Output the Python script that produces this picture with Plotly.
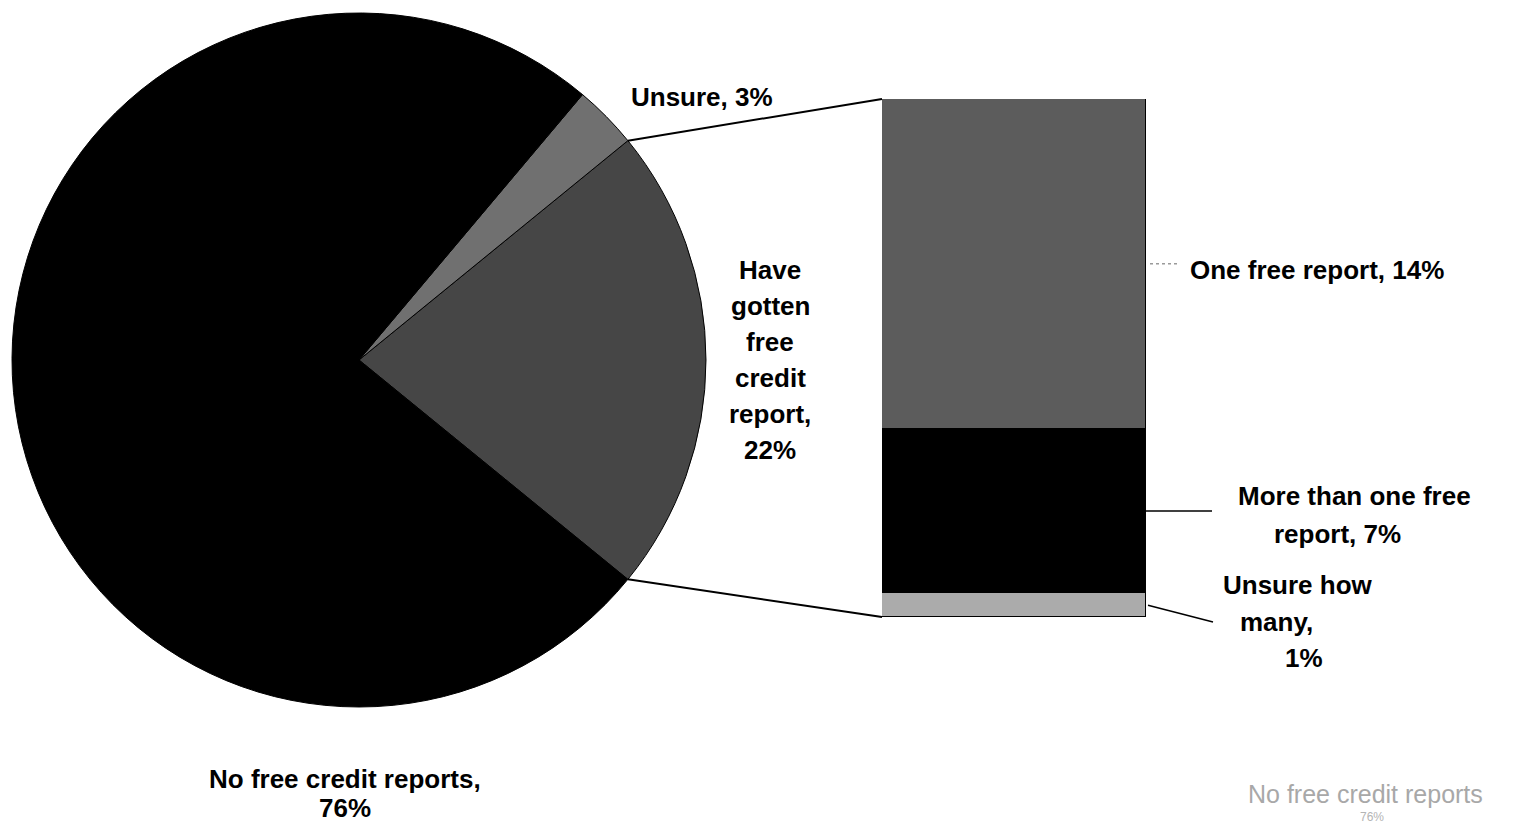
import math
import plotly.graph_objects as go

# ---- data ----
pie_labels = ["Have gotten free credit report", "Unsure", "No free credit reports"]
pie_values = [22, 3, 76]

bar_labels = ["Unsure how many", "More than one free report", "One free report"]
bar_values = [1, 7, 14]

# ---- page geometry (pixels) ----
W, H = 1516, 823
CX, CY, R = 359, 360, 347                  # pie centre and radius
BX0, BX1, BTOP, BBOT = 882, 1146, 99, 617  # stacked bar box

def px(x):
    return x / W

def py(y):
    return 1 - y / H

pie_colors = ["#464646", "#707070", "#000000"]
bar_colors = ["#ababab", "#000000", "#5c5c5c"]

fig = go.Figure()

# The first slice occupies [rotation, rotation + angle] clockwise from 12 o'clock,
# so centring it on 3 o'clock needs rotation = 90 - half its angle.
half_angle = 180.0 * pie_values[0] / sum(pie_values)
fig.add_trace(go.Pie(
    values=pie_values,
    labels=pie_labels,
    sort=False,
    direction="counterclockwise",
    rotation=90 - half_angle,
    textinfo="none",
    hoverinfo="label+value",
    marker=dict(colors=pie_colors, line=dict(color="#000000", width=1)),
    domain=dict(x=[px(CX - R), px(CX + R)], y=[py(CY + R), py(CY - R)]),
    showlegend=False,
))

for lab, val, col in zip(bar_labels, bar_values, bar_colors):
    fig.add_trace(go.Bar(
        x=[0], y=[val], name=lab, width=1,
        marker=dict(color=col, line=dict(color="#000000", width=1.5)),
        showlegend=False, xaxis="x", yaxis="y",
    ))

# connector lines from the slice edges to the bar corners
a = math.radians(half_angle)
top_rim = (CX + R * math.cos(a), CY - R * math.sin(a))
bot_rim = (CX + R * math.cos(a), CY + R * math.sin(a))
shapes = [
    dict(type="line", xref="paper", yref="paper",
         x0=px(top_rim[0]), y0=py(top_rim[1]), x1=px(BX0), y1=py(BTOP),
         line=dict(color="#000000", width=2)),
    dict(type="line", xref="paper", yref="paper",
         x0=px(bot_rim[0]), y0=py(bot_rim[1]), x1=px(BX0), y1=py(BBOT),
         line=dict(color="#000000", width=2)),
]

# leader lines for the bar segments
seg_mid = []
acc = 0
for v in bar_values:
    seg_mid.append(acc + v / 2)
    acc += v
shapes += [
    dict(type="line", xref="paper", yref="y",
         x0=px(BX1), y0=seg_mid[1], x1=px(1212), y1=seg_mid[1],
         line=dict(color="#000000", width=1.5)),
    dict(type="line", xref="paper", yref="paper",
         x0=px(BX1 + 2), y0=py(BBOT - (BBOT - BTOP) * seg_mid[0] / sum(bar_values)),
         x1=px(1213), y1=py(622),
         line=dict(color="#000000", width=1.5)),
    dict(type="line", xref="paper", yref="y",
         x0=px(BX1 + 4), y0=seg_mid[2], x1=px(1180), y1=seg_mid[2],
         line=dict(color="#9a9a9a", width=1.5, dash="dot")),
]

# ---- labels ----
FONT = "Liberation Sans, Arial, sans-serif"

def lines_of(label, value, words_per_line):
    words = f"{label}, {value}%".split(" ")
    out, i = [], 0
    for n in words_per_line:
        out.append(" ".join(words[i:i + n]))
        i += n
    return out

label_specs = [
    (pie_labels[0], pie_values[0], [1, 1, 1, 1, 1, 1],
     [(770, 270), (770, 306), (770, 342), (770, 378), (770, 414), (770, 450)]),
    (pie_labels[1], pie_values[1], [2], [(702, 97)]),
    (pie_labels[2], pie_values[2], [4, 1], [(345, 779), (345, 808)]),
    (bar_labels[2], bar_values[2], [4], [(1317, 270)]),
    (bar_labels[1], bar_values[1], [4, 2], [(1354, 496), (1337, 534)]),
    (bar_labels[0], bar_values[0], [2, 1, 1], [(1298, 585), (1276, 622), (1304, 658)]),
]

annotations = []
for lab, val, wpl, pos in label_specs:
    for txt, (x, y) in zip(lines_of(lab, val, wpl), pos):
        annotations.append(dict(
            text=f"<b>{txt}</b>", x=px(x), y=py(y), xref="paper", yref="paper",
            showarrow=False, xanchor="center", yanchor="middle",
            font=dict(family=FONT, size=26, color="#000000"),
        ))

# faint show-through text in the lower right corner
annotations.append(dict(
    text=f"{pie_labels[2]}", x=px(1246), y=py(794), xref="paper", yref="paper",
    showarrow=False, xanchor="left", yanchor="middle",
    font=dict(family=FONT, size=25, color="#a8a8a8"),
))
annotations.append(dict(
    text=f"{pie_values[2]}%", x=px(1372), y=py(817), xref="paper", yref="paper",
    showarrow=False, xanchor="center", yanchor="middle",
    font=dict(family=FONT, size=12, color="#b4b4b4"),
))

fig.update_layout(
    width=W, height=H,
    margin=dict(l=0, r=0, t=0, b=0),
    paper_bgcolor="#ffffff", plot_bgcolor="rgba(0,0,0,0)",
    barmode="stack", bargap=0,
    xaxis=dict(domain=[px(BX0), px(BX1)], range=[-0.5, 0.5], visible=False, fixedrange=True),
    yaxis=dict(domain=[py(BBOT), py(BTOP)], range=[0, sum(bar_values)], visible=False, fixedrange=True),
    shapes=shapes,
    annotations=annotations,
)

fig.write_html("out.html")
